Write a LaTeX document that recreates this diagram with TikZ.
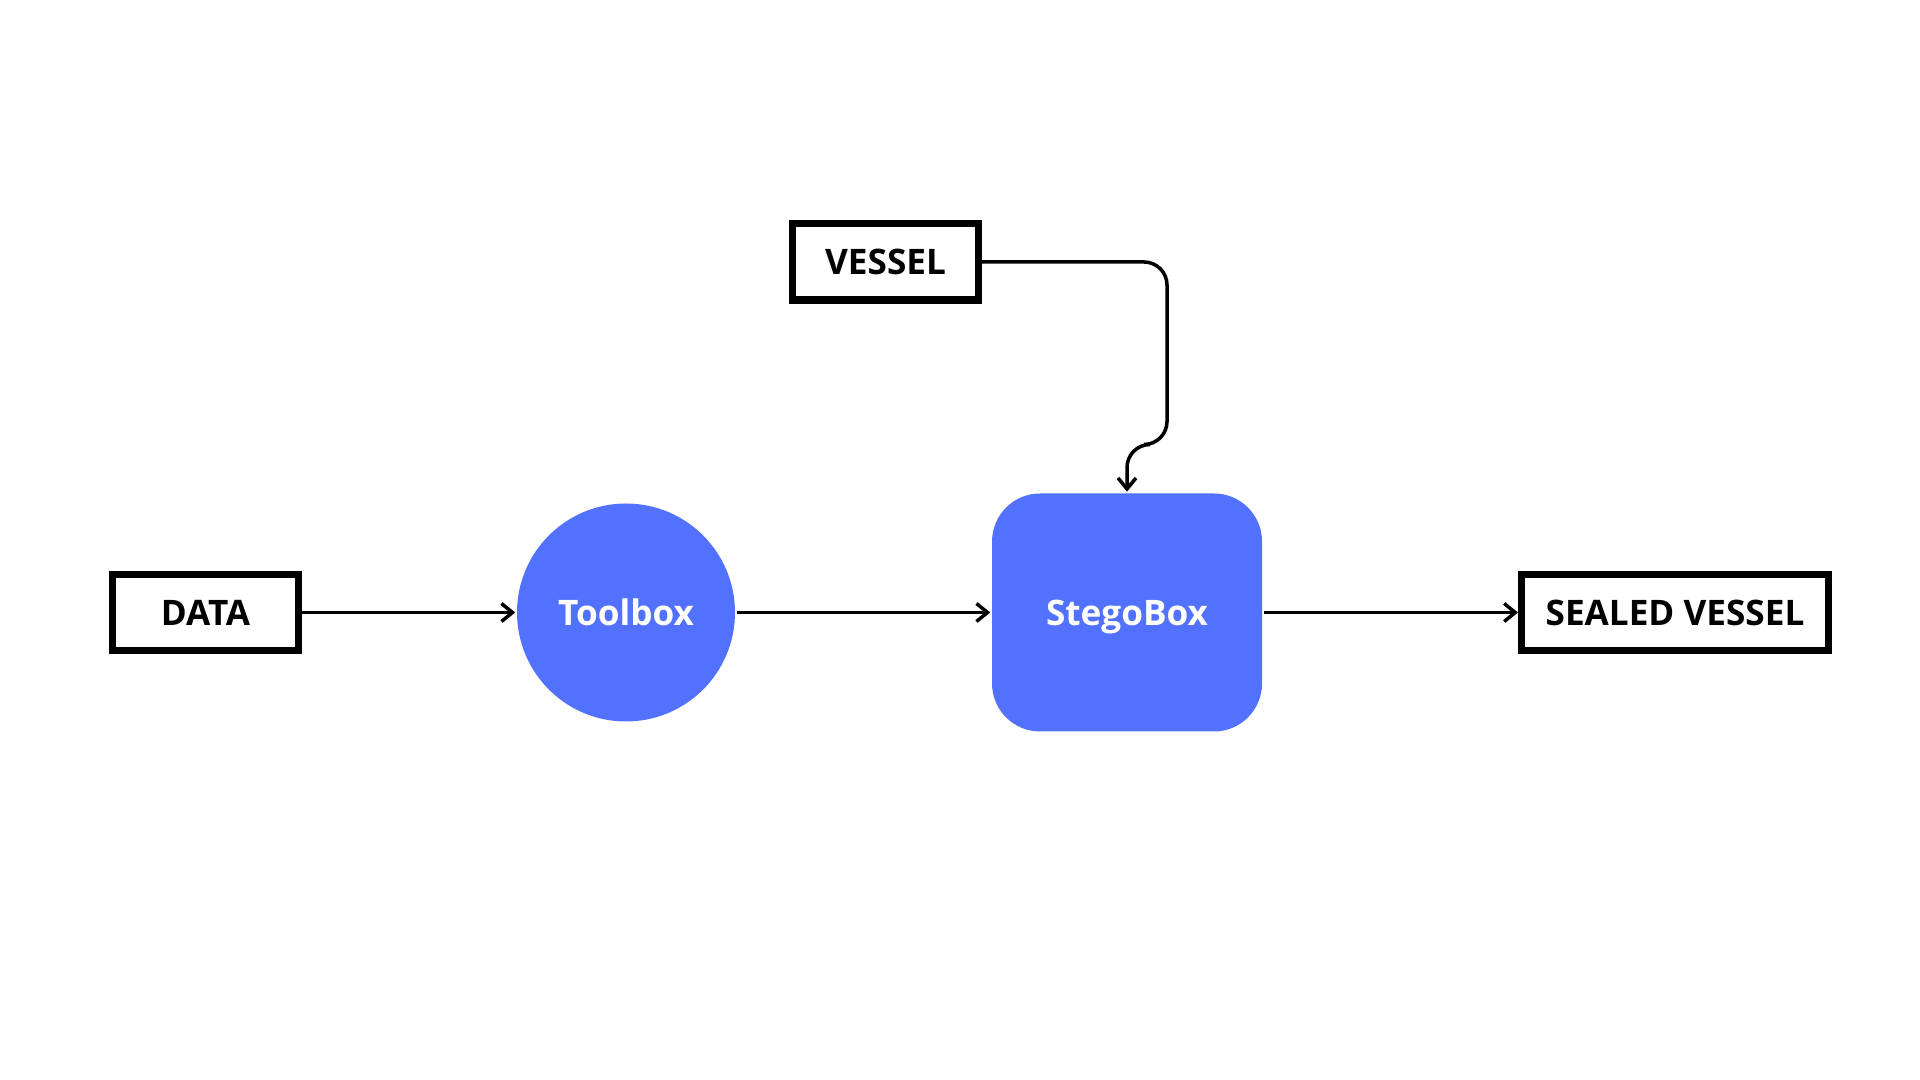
\documentclass[tikz,border=0pt]{standalone}
\usepackage{fontspec}
\setmainfont{Open Sans}
\usepackage{tikz}
\usetikzlibrary{arrows.meta,shapes.geometric}
\definecolor{boxblue}{HTML}{5271FF}

\tikzset{
    io/.style={draw,line width=2pt,minimum width=1.86cm,minimum height=0.76cm,font=\fontsize{10}{12}\selectfont\bfseries},
    tool/.style={circle,fill=boxblue,text=white,minimum size=2.18cm,font=\fontsize{10}{12}\selectfont\bfseries},
    stego/.style={rectangle,rounded corners=0.48cm,fill=boxblue,text=white,text depth=0pt,minimum width=2.7cm,minimum height=2.38cm,font=\fontsize{10}{12}\selectfont\bfseries}
}

\begin{document}
\begin{tikzpicture}[>={Straight Barb[length=1.1mm,width=1.8mm]},line width=1pt]
        \useasboundingbox (0,0) rectangle (19.2,10.8);
        \node[io] (data) at (2.055,4.675) {DATA};
        \node[tool] (toolbox) [right of=data,node distance=4.205cm] {Toolbox};
        \node[stego] (stegobox) [right of=toolbox,node distance=5.01cm] {StegoBox};
        \node[io,minimum width=3.07cm] (sealed) [right of=stegobox,node distance=5.48cm] {SEALED VESSEL};
        \node[io] (vessel) at (8.855,8.18) {VESSEL};
        \coordinate (bend) at (11.67,6.355);
        \draw [->] (data) -- (toolbox);
        \draw [->] (toolbox) -- (stegobox);
        \draw [->] (stegobox) -- (sealed);
        \draw [->,rounded corners=0.23cm] (vessel.east) -| (bend) -| (stegobox.north);
    \end{tikzpicture}
\end{document}
